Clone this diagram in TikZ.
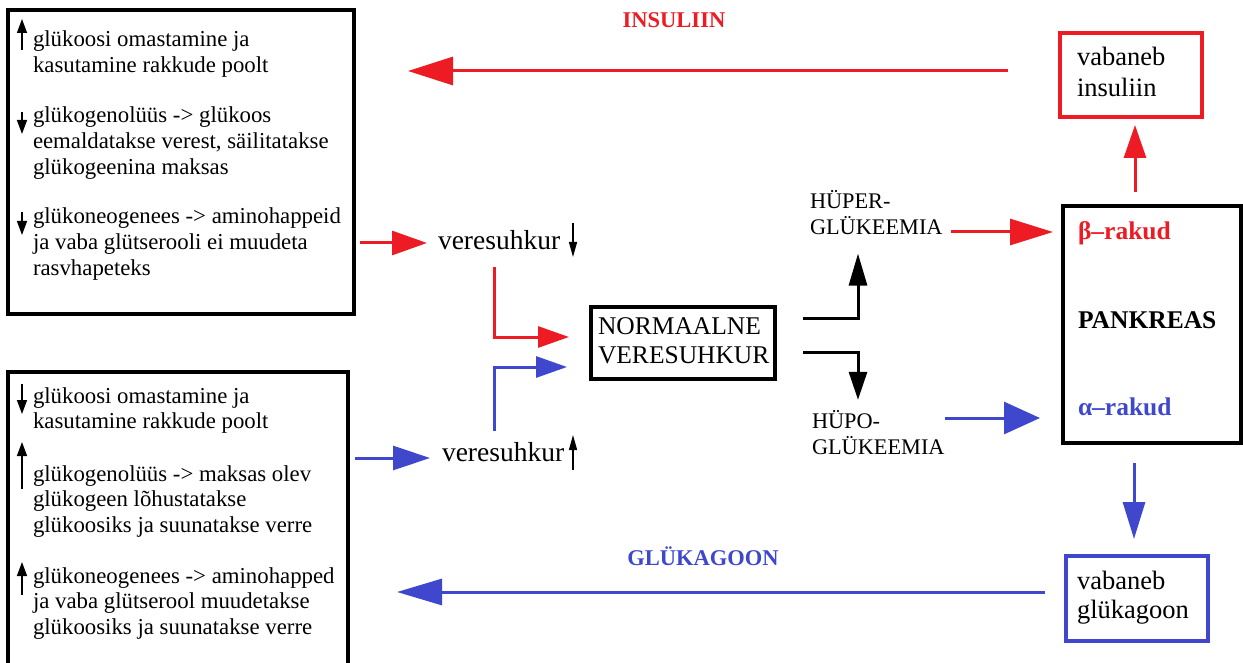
\documentclass[tikz,border=0pt]{standalone}
\usepackage{fontspec}
\setmainfont{Liberation Serif}
\usetikzlibrary{arrows.meta}
\definecolor{ired}{RGB}{237,28,36}
\definecolor{iblue}{RGB}{63,72,204}
% font size helper and stacked text lines (baseline = first line)
\newcommand\fs[2]{\fontsize{#1}{#2}\selectfont}
\newcommand\txtlines[1]{\begin{tabular}[t]{@{}l@{}}#1\end{tabular}}
\newcommand\txtcol[2]{\begin{tabular}[t]{@{}p{#1}@{}}#2\end{tabular}}
\newcommand\bodyfont{\fs{22.8}{25.6}}
\begin{document}
\begin{tikzpicture}[x=1pt,y=-1pt,
  txt/.style={inner sep=0pt, outer sep=0pt, anchor=base west},
  body/.style={txt, font=\bodyfont},
  frame/.style={draw, line width=3.2pt, inner sep=0pt, outer sep=0pt, anchor=north west},
  conn/.style={line width=3pt},
  tinyarrow/.style={line width=1.4pt, -{Triangle[length=14pt,width=10pt]}},
  label/.style={inner sep=0pt, anchor=base, font=\fs{22.5}{26}\bfseries},
  ]
\fill[white] (0,0) rectangle (1243,663);
\useasboundingbox (0,0) rectangle (1243,663);

% ---------- left frames with effects ----------
\node[frame, minimum width=346pt, minimum height=304pt] (topbox) at (8,10) {};
\node[frame, minimum width=340pt, minimum height=310pt] (botbox) at (8,372) {};

\node[body] (t1) at (33,47)  {\txtlines{glükoosi omastamine ja\\kasutamine rakkude poolt}};
\node[body] (t2) at (33,123) {\txtlines{glükogenolüüs -> glükoos\\eemaldatakse verest, säilitatakse\\glükogeenina maksas}};
\node[body] (t3) at (33,224) {\txtlines{glükoneogenees -> aminohappeid\\ja vaba glütserooli ei muudeta\\rasvhapeteks}};
\draw[tinyarrow] (22,50) -- (22,19);
\draw[tinyarrow] (22,112) -- (22,134);
\draw[tinyarrow] (22,212) -- (22,235);

\node[body] (b1) at (33,403) {\txtlines{glükoosi omastamine ja\\kasutamine rakkude poolt}};
\node[body] (b2) at (33,481) {\txtlines{glükogenolüüs -> maksas olev\\glükogeen lõhustatakse\\glükoosiks ja suunatakse verre}};
\node[body] (b3) at (33,583) {\txtlines{glükoneogenees -> aminohapped\\ja vaba glütserool muudetakse\\glükoosiks ja suunatakse verre}};
\draw[tinyarrow] (22,384) -- (22,414);
\draw[tinyarrow] (22,489) -- (22,442);
\draw[tinyarrow] (22,595) -- (22,562);

% ---------- blood sugar ----------
\node[txt, font=\fs{27.5}{31}] (vsTop) at (438,250) {veresuhkur};
\node[txt, font=\fs{27.5}{31}] (vsBot) at (442,461) {veresuhkur};
\draw[line width=1.4pt, -{Triangle[length=15pt,width=8pt]}] (573,223) -- (573,257);
\draw[line width=1.4pt, -{Triangle[length=15pt,width=8pt]}] (573,470) -- (573,435);

\node[frame, inner xsep=7pt, inner ysep=7pt, font=\fs{25.5}{29}] (normal) at (591,307)
  {\txtcol{170pt}{NORMAALNE\\VERESUHKUR}};

\node[txt, font=\fs{22.3}{25}] (hyper) at (810,209) {\txtlines{HÜPER-\\GLÜKEEMIA}};
\node[txt, font=\fs{22.3}{26}] (hypo)  at (812,428) {\txtlines{HÜPO-\\GLÜKEEMIA}};

% ---------- pancreas ----------
\node[frame, minimum width=178pt, minimum height=237pt] (pank) at (1063,206) {};
\node[txt, font=\fs{25.5}{30}\bfseries, text=ired]  (beta)   at (1078,240) {β–rakud};
\node[txt, font=\fs{25.5}{30}\bfseries]             (pkname) at (1078,328) {PANKREAS};
\node[txt, font=\fs{25.5}{30}\bfseries, text=iblue] (alpha)  at (1078,415) {α–rakud};

\node[frame, draw=ired, inner xsep=17pt, inner ysep=11pt, font=\fs{26.5}{31}] (insbox) at (1060,33)
  {\txtcol{108pt}{vabaneb\\insuliin}};
\node[frame, draw=iblue, inner xsep=11pt, inner ysep=13.5pt, font=\fs{26.5}{29}] (glukbox) at (1066,556)
  {\txtcol{120pt}{vabaneb\\glükagoon}};

\node[label, text=ired]  (inslabel) at (674,28)  {INSULIIN};
\node[label, text=iblue] (glulabel) at (703,565) {GLÜKAGOON};

% ---------- connectors ----------
\coordinate (rowI) at (0,71);
\coordinate (rowG) at (0,592);
\coordinate (rowA) at (0,243);
\coordinate (rowV) at (0,458);
\coordinate (redturn) at (494,337);
\coordinate (blueturn) at (494,367);
\coordinate (upturn) at (858,318);
\coordinate (downturn) at (858,352);
\coordinate (rowB) at (0,232);
\coordinate (rowC) at (0,418);
\coordinate (colI) at (1135,0);
\coordinate (colG) at (1134,0);

\draw[conn, ired, -{Triangle[length=45pt,width=28pt]}, shorten <=52pt, shorten >=54pt]
  (insbox.west |- rowI) -- (topbox.east |- rowI);
\draw[conn, iblue, -{Triangle[length=45pt,width=26pt]}, shorten <=21pt, shorten >=49pt]
  (glukbox.west |- rowG) -- (botbox.east |- rowG);

\draw[conn, ired, -{Triangle[length=35pt,width=24pt]}, shorten <=6pt, shorten >=11pt]
  (topbox.east |- rowA) -- (vsTop.west |- rowA);
\draw[conn, iblue, -{Triangle[length=37pt,width=24pt]}, shorten <=7pt, shorten >=12pt]
  (botbox.east |- rowV) -- (vsBot.west |- rowV);

\draw[conn, ired, -{Triangle[length=31pt,width=21pt]}, shorten <=17pt, shorten >=22pt]
  (vsTop.south -| redturn) -- (redturn) -- (normal.west |- redturn);
\draw[conn, iblue, -{Triangle[length=31pt,width=21pt]}, shorten <=11pt, shorten >=24pt]
  (vsBot.north -| blueturn) -- (blueturn) -- (normal.west |- blueturn);

\draw[conn, black, -{Triangle[length=32pt,width=18pt]}, shorten <=28pt, shorten >=11.5pt]
  (normal.east |- upturn) -- (upturn) -- (hyper.south -| upturn);
\draw[conn, black, -{Triangle[length=28pt,width=18pt]}, shorten <=28pt, shorten >=10pt]
  (normal.east |- downturn) -- (downturn) -- (hypo.north -| downturn);

\draw[conn, ired, -{Triangle[length=43pt,width=26pt]}, shorten <=8pt, shorten >=10pt]
  (hyper.east |- rowB) -- (pank.west |- rowB);
\draw[conn, iblue, -{Triangle[length=36pt,width=32pt]}, shorten <=0pt, shorten >=23pt]
  (hypo.east |- rowC) -- (pank.west |- rowC);

\draw[conn, ired, -{Triangle[length=33pt,width=22pt]}, shorten <=14pt, shorten >=8pt]
  (pank.north -| colI) -- (insbox.south -| colI);
\draw[conn, iblue, -{Triangle[length=37pt,width=22pt]}, shorten <=20pt, shorten >=17pt]
  (pank.south -| colG) -- (glukbox.north -| colG);
\end{tikzpicture}
\end{document}
